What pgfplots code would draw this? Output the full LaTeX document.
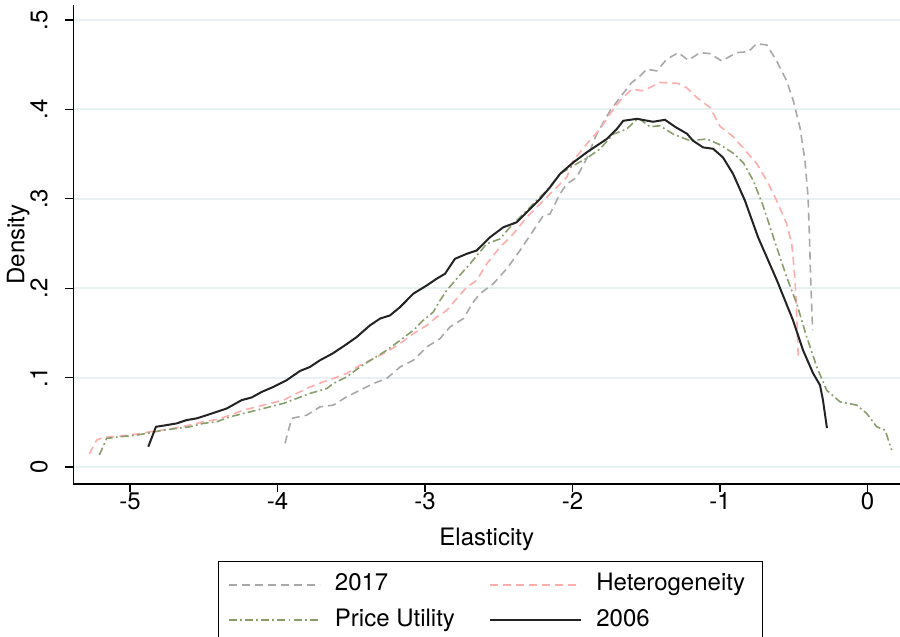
\documentclass[border=0pt]{standalone}
\usepackage{pgfplots}
\pgfplotsset{compat=1.18}
\usepackage{fontspec}
\setmainfont{TeX Gyre Heros}
\definecolor{cgray}{RGB}{168,168,168}
\definecolor{cpink}{RGB}{255,172,172}
\definecolor{cgreen}{RGB}{138,158,108}
\definecolor{cblack}{RGB}{35,35,35}
\definecolor{cgrid}{RGB}{232,240,242}
\begin{document}
\begin{tikzpicture}
\begin{axis}[
 name=ax,
 scale only axis, width=413.25pt, height=239.5pt,
 xmin=-5.383, xmax=0.2203, ymin=-0.019, ymax=0.5168,
 axis x line*=bottom, axis y line*=left,
 axis line style={line width=0.6pt, black},
 xtick={-5,-4,-3,-2,-1,0}, xticklabels={-5,-4,-3,-2,-1,0},
 ytick={0,0.1,0.2,0.3,0.4,0.5}, yticklabels={0,.1,.2,.3,.4,.5},
 tick align=outside, major tick length=4pt,
 tick style={line width=0.6pt, black},
 ymajorgrids, grid style={line width=1pt, cgrid},
 tick label style={font=\fontsize{12}{14}\selectfont},
 xticklabel style={anchor=north, inner sep=0pt},
 yticklabel style={xshift=-9pt, rotate=90, anchor=base, inner sep=0pt},
 xlabel={Elasticity}, ylabel={Density},
 every axis x label/.style={at={([yshift=-30.5pt]axis description cs:0.5,0)}, anchor=base, font=\fontsize{12}{14}\selectfont},
 every axis y label/.style={at={([xshift=-24.5pt]axis description cs:0,0.5)}, rotate=90, anchor=base, font=\fontsize{12}{14}\selectfont},
 legend columns=2,
 legend cell align=left,
 legend style={at={(0.1745,-0.1608)}, anchor=north west, draw=black, line width=0.6pt,
   inner xsep=4.8pt, inner ysep=6pt, font=\fontsize{12}{14}\selectfont,
   nodes={inner sep=0pt, text height=8.6pt, text depth=2.6pt}, row sep=6.5pt, column sep=0pt},
 legend image code/.code={\draw[#1] (0pt,0pt) -- (45.5pt,0pt); \path (52.7pt,0pt);},
]
\addplot[cgray, line width=0.8pt, dash pattern=on 4pt off 2.5pt] coordinates {
(-3.949,0.0265)(-3.904,0.0544)(-3.802,0.0580)(-3.712,0.0673)(-3.622,0.0692)(-3.531,0.0785)(-3.441,0.0859)(-3.350,0.0934)(-3.260,0.0990)(-3.169,0.1119)(-3.079,0.1194)(-2.988,0.1343)(-2.898,0.1436)(-2.831,0.1566)(-2.740,0.1660)(-2.673,0.1845)(-2.627,0.1939)(-2.537,0.2050)(-2.446,0.2218)(-2.356,0.2422)(-2.266,0.2645)(-2.198,0.2813)(-2.153,0.2831)(-2.085,0.3055)(-2.039,0.3166)(-1.972,0.3240)(-1.904,0.3449)(-1.836,0.3724)(-1.791,0.3854)(-1.746,0.3984)(-1.678,0.4133)(-1.599,0.4300)(-1.542,0.4375)(-1.497,0.4450)(-1.429,0.4431)(-1.361,0.4561)(-1.283,0.4635)(-1.215,0.4550)(-1.136,0.4635)(-1.068,0.4624)(-0.988,0.4542)(-0.887,0.4635)(-0.808,0.4646)(-0.751,0.4735)(-0.683,0.4721)(-0.616,0.4542)(-0.548,0.4319)(-0.503,0.4096)(-0.458,0.3798)(-0.424,0.3426)(-0.403,0.3017)(-0.395,0.2645)(-0.385,0.2087)(-0.372,0.1529)
};
\addlegendentry{\makebox[77pt][l]{2017}}
\addplot[cpink, line width=0.8pt, dash pattern=on 4pt off 2.5pt] coordinates {
(-5.276,0.0145)(-5.226,0.0301)(-5.181,0.0331)(-5.068,0.0346)(-4.955,0.0368)(-4.864,0.0394)(-4.774,0.0413)(-4.683,0.0439)(-4.593,0.0469)(-4.503,0.0506)(-4.412,0.0532)(-4.322,0.0580)(-4.232,0.0636)(-4.141,0.0673)(-4.051,0.0711)(-3.961,0.0748)(-3.870,0.0823)(-3.780,0.0896)(-3.690,0.0952)(-3.622,0.0990)(-3.531,0.1046)(-3.441,0.1138)(-3.350,0.1213)(-3.260,0.1287)(-3.169,0.1381)(-3.079,0.1492)(-2.988,0.1585)(-2.921,0.1677)(-2.853,0.1752)(-2.785,0.1883)(-2.717,0.2012)(-2.650,0.2087)(-2.582,0.2273)(-2.492,0.2459)(-2.401,0.2608)(-2.311,0.2794)(-2.220,0.2943)(-2.130,0.3092)(-2.039,0.3240)(-1.995,0.3426)(-1.904,0.3613)(-1.814,0.3780)(-1.746,0.3948)(-1.678,0.4096)(-1.599,0.4227)(-1.520,0.4208)(-1.407,0.4302)(-1.285,0.4291)(-1.224,0.4241)(-1.158,0.4133)(-1.068,0.4021)(-1.000,0.3811)(-0.910,0.3694)(-0.842,0.3566)(-0.751,0.3393)(-0.683,0.3203)(-0.616,0.2980)(-0.548,0.2720)(-0.514,0.2497)(-0.498,0.2236)(-0.485,0.1901)(-0.476,0.1529)(-0.469,0.1194)
};
\addlegendentry{\makebox[78.2pt][l]{Heterogeneity}}
\addplot[cgreen, line width=0.8pt, dash pattern=on 4pt off 1.6pt on 0.9pt off 1.6pt] coordinates {
(-5.208,0.0134)(-5.158,0.0320)(-5.068,0.0338)(-4.955,0.0357)(-4.864,0.0383)(-4.774,0.0413)(-4.683,0.0432)(-4.593,0.0450)(-4.503,0.0488)(-4.412,0.0506)(-4.322,0.0561)(-4.232,0.0599)(-4.141,0.0636)(-4.051,0.0673)(-3.961,0.0711)(-3.870,0.0767)(-3.780,0.0823)(-3.666,0.0878)(-3.622,0.0934)(-3.531,0.1008)(-3.441,0.1119)(-3.350,0.1213)(-3.260,0.1306)(-3.169,0.1417)(-3.079,0.1529)(-3.012,0.1641)(-2.944,0.1733)(-2.898,0.1864)(-2.853,0.1975)(-2.785,0.2106)(-2.695,0.2273)(-2.582,0.2497)(-2.492,0.2552)(-2.424,0.2682)(-2.356,0.2794)(-2.266,0.2943)(-2.175,0.3092)(-2.085,0.3278)(-1.995,0.3371)(-1.904,0.3454)(-1.814,0.3557)(-1.723,0.3724)(-1.633,0.3780)(-1.554,0.3903)(-1.475,0.3806)(-1.407,0.3817)(-1.317,0.3724)(-1.203,0.3650)(-1.090,0.3669)(-1.000,0.3605)(-0.910,0.3510)(-0.842,0.3404)(-0.774,0.3203)(-0.706,0.2913)(-0.616,0.2459)(-0.548,0.2124)(-0.480,0.1827)(-0.412,0.1454)(-0.344,0.1119)(-0.277,0.0859)(-0.186,0.0729)(-0.073,0.0692)(-0.005,0.0599)(0.062,0.0450)(0.119,0.0413)(0.164,0.0190)
};
\addlegendentry{\makebox[77pt][l]{Price Utility}}
\addplot[cblack, line width=1pt] coordinates {
(-4.876,0.0227)(-4.824,0.0450)(-4.751,0.0469)(-4.683,0.0488)(-4.616,0.0525)(-4.548,0.0544)(-4.480,0.0580)(-4.412,0.0617)(-4.344,0.0655)(-4.243,0.0748)(-4.175,0.0778)(-4.107,0.0840)(-4.028,0.0896)(-3.938,0.0971)(-3.847,0.1075)(-3.780,0.1119)(-3.712,0.1194)(-3.624,0.1272)(-3.542,0.1362)(-3.463,0.1454)(-3.373,0.1585)(-3.305,0.1660)(-3.237,0.1696)(-3.169,0.1789)(-3.079,0.1939)(-2.988,0.2031)(-2.921,0.2106)(-2.864,0.2162)(-2.797,0.2329)(-2.717,0.2385)(-2.650,0.2422)(-2.559,0.2570)(-2.469,0.2682)(-2.378,0.2738)(-2.288,0.2887)(-2.220,0.2999)(-2.153,0.3128)(-2.085,0.3278)(-1.995,0.3407)(-1.904,0.3519)(-1.836,0.3594)(-1.768,0.3669)(-1.700,0.3780)(-1.656,0.3873)(-1.563,0.3895)(-1.454,0.3862)(-1.373,0.3884)(-1.305,0.3806)(-1.224,0.3728)(-1.183,0.3650)(-1.115,0.3575)(-1.047,0.3560)(-0.980,0.3463)(-0.912,0.3281)(-0.831,0.2980)(-0.742,0.2570)(-0.614,0.2087)(-0.505,0.1641)(-0.437,0.1306)(-0.369,0.1049)(-0.322,0.0915)(-0.302,0.0748)(-0.275,0.0435)
};
\addlegendentry{\makebox[78.2pt][l]{2006}}
\end{axis}
\pgfresetboundingbox
\path ([xshift=-36.75pt,yshift=-76.5pt]ax.south west) rectangle ([yshift=2.5pt]ax.north east);
\end{tikzpicture}
\end{document}
